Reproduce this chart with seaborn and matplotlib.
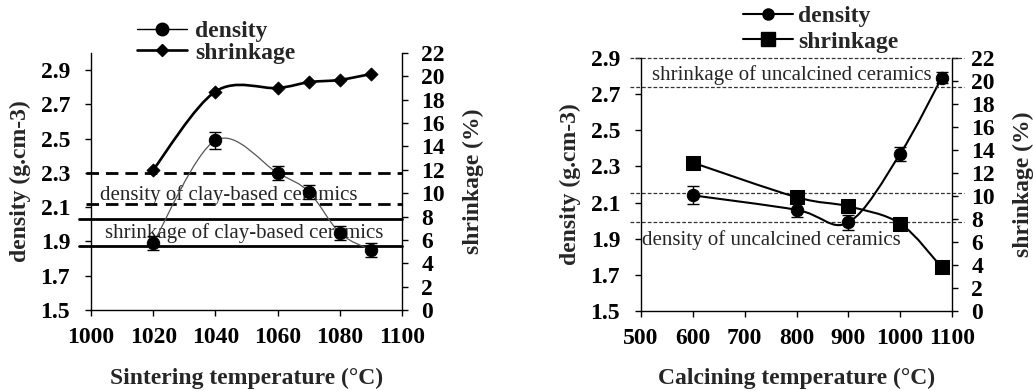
import numpy as np
import matplotlib
matplotlib.use("Agg")
import matplotlib.pyplot as plt
import seaborn as sns
import pandas as pd
from matplotlib.path import Path
from matplotlib.patches import PathPatch
from matplotlib.lines import Line2D

# ---------------- data ----------------
sinter_temp = [1020, 1040, 1060, 1070, 1080, 1090]
sinter_density = [1.89, 2.49, 2.30, 2.19, 1.95, 1.85]
sinter_density_err = [0.04, 0.05, 0.04, 0.04, 0.04, 0.04]
sinter_shrinkage = [12.0, 18.7, 19.0, 19.5, 19.7, 20.2]

calc_temp = [600, 800, 900, 1000, 1080]
calc_density = [2.14, 2.06, 1.99, 2.37, 2.79]
calc_density_err = [0.05, 0.04, 0.04, 0.04, 0.03]
calc_shrinkage = [12.9, 9.9, 9.1, 7.6, 3.8]

clay_density_lines = [2.30, 2.117]      # dashed, density axis
clay_shrinkage_lines = [2.03, 1.874]    # solid, density axis
uncalc_shrink_lines = [22.0, 19.45]     # dotted, shrinkage axis
uncalc_density_lines = [2.155, 1.994]   # dotted, density axis

density_ticks = [1.5, 1.7, 1.9, 2.1, 2.3, 2.5, 2.7, 2.9]
shrink_ticks = list(range(0, 23, 2))
sinter_xticks = [1000, 1020, 1040, 1060, 1080, 1100]
calc_xticks = [500, 600, 700, 800, 900, 1000, 1100]

sns.set_style("ticks")
plt.rcParams['font.family'] = ['Liberation Serif', 'DejaVu Serif']

BOLD = 17
REG = 15

fig = plt.figure(figsize=(10.33, 3.91), dpi=100)


def smooth_path(x, y):
    pts = np.column_stack([x, y]).astype(float)
    n = len(pts)
    verts = [pts[0]]
    codes = [Path.MOVETO]
    for i in range(n - 1):
        p0 = pts[i - 1] if i > 0 else pts[i]
        p1 = pts[i]
        p2 = pts[i + 1]
        p3 = pts[i + 2] if i + 2 < n else pts[i + 1]
        c1 = p1 + (p2 - p0) / 6.0
        c2 = p2 - (p3 - p1) / 6.0
        verts += [c1, c2, p2]
        codes += [Path.CURVE4] * 3
    return Path(verts, codes)


def style_axes(ax, ax2, xticks, xlim, ylim_left):
    ax.set_xlim(*xlim)
    ax.set_ylim(*ylim_left)
    ax2.set_ylim(0, 22)
    ax.set_xticks(xticks)
    ax.set_yticks(density_ticks)
    ax.set_yticklabels([f"{v:.1f}" for v in density_ticks])
    ax2.set_yticks(shrink_ticks)
    ax.set_xticklabels([str(v) for v in xticks])
    for a in (ax, ax2):
        a.spines['top'].set_visible(False)
        for s in a.spines.values():
            s.set_linewidth(1.0)
            s.set_color('black')
        a.tick_params(direction='out', length=4, width=1, colors='black',
                      labelsize=BOLD)
        for lab in a.get_xticklabels() + a.get_yticklabels():
            lab.set_fontweight('bold')
    ax.spines['right'].set_visible(False)
    ax2.spines['left'].set_visible(False)
    ax2.spines['bottom'].set_visible(False)
    ax.tick_params(axis='x', pad=8)
    ax.tick_params(axis='y', pad=11)
    ax2.tick_params(axis='y', pad=10)
    ax.set_ylabel("density (g.cm-3)", fontsize=BOLD, fontweight='bold')
    ax2.set_ylabel("shrinkage (%)", fontsize=BOLD, fontweight='bold', rotation=90)
    ax.yaxis.set_label_coords(-0.228, 0.5)
    ax.yaxis.label.set_va('center')
    ax2.yaxis.set_label_coords(1.228, 0.5)
    ax2.yaxis.label.set_va('center')
    ax.xaxis.set_label_coords(0.5, -0.225)
    ax.grid(False)
    ax2.grid(False)


# ================= left panel =================
axL = fig.add_axes([91 / 1033, 1 - 310 / 391, 311 / 1033, 257 / 391])
axL2 = axL.twinx()

for yv in clay_density_lines:
    axL.plot([-0.016, 1.0], [yv, yv], transform=axL.get_yaxis_transform(),
             color='black', lw=2.0, ls=(0, (4.5, 2.5)), clip_on=False, zorder=1)
for yv in clay_shrinkage_lines:
    axL.plot([-0.04, 1.0], [yv, yv], transform=axL.get_yaxis_transform(),
             color='black', lw=2.0, clip_on=False, zorder=1)

axL.text(0.029, 0.447, "density of clay-based ceramics", transform=axL.transAxes,
         fontsize=REG, va='center', ha='left')
axL.text(0.045, 0.30, "shrinkage of clay-based ceramics", transform=axL.transAxes,
         fontsize=REG, va='center', ha='left')

axL.add_patch(PathPatch(smooth_path(sinter_temp, sinter_density), fill=False,
                        edgecolor='#555555', lw=0.9, zorder=3))
axL.errorbar(sinter_temp, sinter_density, yerr=sinter_density_err, fmt='none',
             ecolor='black', elinewidth=1, capsize=4, capthick=1, zorder=4)
sns.scatterplot(x=sinter_temp, y=sinter_density, ax=axL, marker='o', s=80,
                color='black', edgecolor='black', zorder=5, legend=False)

axL2.add_patch(PathPatch(smooth_path(sinter_temp, sinter_shrinkage), fill=False,
                         edgecolor='black', lw=1.9, zorder=3))
sns.scatterplot(x=sinter_temp, y=sinter_shrinkage, ax=axL2, marker='D', s=45,
                color='black', edgecolor='black', zorder=5, legend=False)

style_axes(axL, axL2, sinter_xticks, (1000, 1100), (1.5, 3.0))
axL.set_xlabel("Sintering temperature (°C)", fontsize=BOLD, fontweight='bold')

hL = [Line2D([], [], color='black', lw=1.0, marker='o', markersize=9),
      Line2D([], [], color='black', lw=1.9, marker='D', markersize=6.5)]
fig.legend(hL, ["density", "shrinkage"], loc='center left',
           bbox_to_anchor=(137 / 1033, 1 - 42 / 391), frameon=False,
           borderpad=0, borderaxespad=0, handlelength=2.1, handletextpad=0.35,
           labelspacing=0.0, prop={'size': BOLD, 'weight': 'bold'})

# ================= right panel =================
axR = fig.add_axes([641 / 1033, 1 - 311 / 391, 311 / 1033, 253 / 391])
axR2 = axR.twinx()

for yv in uncalc_shrink_lines:
    axR2.plot([-0.035, 1.04], [yv, yv], transform=axR2.get_yaxis_transform(),
              color='#333333', lw=0.9, ls=(0, (3, 1.6)), clip_on=False, zorder=1)
for yv in uncalc_density_lines:
    axR.plot([-0.035, 1.04], [yv, yv], transform=axR.get_yaxis_transform(),
             color='#333333', lw=0.9, ls=(0, (3, 1.6)), clip_on=False, zorder=1)

axR.text(0.035, 0.933, "shrinkage of uncalcined ceramics", transform=axR.transAxes,
         fontsize=REG, va='center', ha='left')
axR.text(0.003, 0.28, "density of uncalcined ceramics", transform=axR.transAxes,
         fontsize=REG, va='center', ha='left')

axR.add_patch(PathPatch(smooth_path(calc_temp, calc_density), fill=False,
                        edgecolor='black', lw=1.5, zorder=3))
axR.errorbar(calc_temp, calc_density, yerr=calc_density_err, fmt='none',
             ecolor='black', elinewidth=1, capsize=4, capthick=1, zorder=4)
sns.scatterplot(x=calc_temp, y=calc_density, ax=axR, marker='o', s=80,
                color='black', edgecolor='black', zorder=5, legend=False)

axR2.add_patch(PathPatch(smooth_path(calc_temp, calc_shrinkage), fill=False,
                         edgecolor='black', lw=1.5, zorder=3))
sns.scatterplot(x=calc_temp, y=calc_shrinkage, ax=axR2, marker='s', s=90,
                color='black', edgecolor='black', zorder=5, legend=False)

style_axes(axR, axR2, calc_xticks, (500, 1100), (1.5, 2.9))
axR.set_xlabel("Calcining temperature (°C)", fontsize=BOLD, fontweight='bold')

hR = [Line2D([], [], color='black', lw=1.5, marker='o', markersize=8),
      Line2D([], [], color='black', lw=1.5, marker='s', markersize=9.5)]
fig.legend(hR, ["density", "shrinkage"], loc='center left',
           bbox_to_anchor=(743 / 1033, 1 - 29 / 391), frameon=False,
           borderpad=0, borderaxespad=0, handlelength=2.1, handletextpad=0.25,
           labelspacing=0.17, prop={'size': BOLD, 'weight': 'bold'})

fig.savefig("out.png", dpi=100)
